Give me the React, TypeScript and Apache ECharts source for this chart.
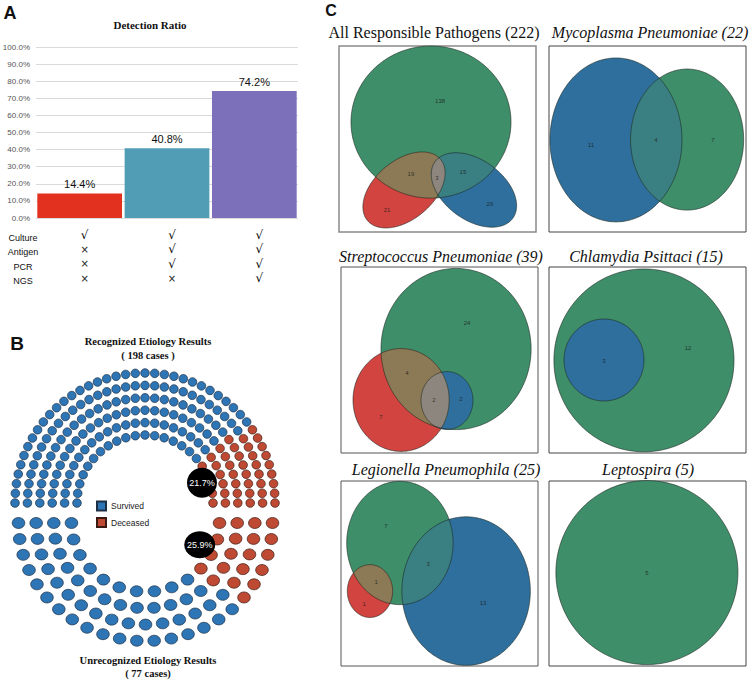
import React, { useEffect, useRef } from 'react';
import * as echarts from 'echarts';

// ---------- Panel A data ----------
const detectionGroups = ['Culture', 'Culture + Antigen + PCR', 'Culture + Antigen + PCR + NGS'];
const detectionRatio = [14.4, 40.8, 74.2];
const detectionColors = ['#e2321f', '#529db6', '#7b70b9'];
const methodNames = ['Culture', 'Antigen', 'PCR', 'NGS'];
const methodUsed = [
  [true, false, false, false],
  [true, true, true, false],
  [true, true, true, true],
];

// ---------- Panel B data ----------
const recognizedCases = 198;
const recognizedDeceasedPct = 21.7;
const unrecognizedCases = 77;
const unrecognizedDeceasedPct = 25.9;
const outcomeNames = ['Survived', 'Deceased'];

// ---------- Panel C data ----------
// ellipse: [setIndex(0 green,1 red,2 blue), cx%, cy%, rx(% of width), ry(% of width), rotationDeg]
const vennTitles = [
  'All Responsible Pathogens (222)',
  'Mycoplasma Pneumoniae (22)',
  'Streptococcus Pneumoniae (39)',
  'Chlamydia Psittaci (15)',
  'Legionella Pneumophila (25)',
  'Leptospira (5)',
];
const vennItalic = [false, true, true, true, true, true];
const vennEllipses1 = [
  [0, 46.7, 40.9, 40.6, 38.6, 0],
  [1, 33.0, 77.4, 24.2, 14.9, 40],
  [2, 68.5, 77.4, 24.4, 15.2, -36],
];
const vennEllipses2 = [
  [2, 34.0, 50.5, 33.5, 41.6, 0],
  [0, 70.1, 50.3, 28.7, 35.8, 0],
];
const vennEllipses3 = [
  [0, 58.4, 44.1, 38.1, 40.9, 0],
  [1, 30.5, 71.5, 24.4, 26.1, 0],
  [2, 53.8, 71.8, 13.2, 14.7, 0],
];
const vennEllipses4 = [
  [0, 48.2, 50.2, 45.7, 46.4, 0],
  [2, 27.9, 50.0, 20.3, 20.8, 0],
];
const vennEllipses5 = [
  [0, 29.9, 33.5, 27.0, 31.3, 0],
  [2, 63.5, 59.5, 32.6, 37.7, 0],
  [1, 14.7, 59.5, 11.5, 13.4, 0],
];
const vennEllipses6 = [[0, 49.7, 49.5, 46.2, 46.7, 0]];
// overlaps: [i, j, tintIndex]  (indices into the ellipse list of the same panel)
const vennOverlaps1 = [[0, 1, 0], [0, 2, 1], [1, 2, 2]];
const vennOverlaps2 = [[0, 1, 1]];
const vennOverlaps3 = [[0, 1, 0], [1, 2, 2]];
const vennOverlaps4: number[][] = [];
const vennOverlaps5 = [[0, 2, 0], [0, 1, 1]];
const vennOverlaps6: number[][] = [];
// counts: [x%, y%, count]
const vennCounts1 = [[51.3, 29.6, 138], [36.5, 68.8, 19], [49.7, 71.0, 3], [62.9, 67.7, 15], [24.4, 88.2, 21], [76.6, 84.9, 26]];
const vennCounts2 = [[21.3, 53.2, 11], [54.3, 50.5, 4], [83.2, 50.5, 7]];
const vennCounts3 = [[64.0, 30.1, 24], [33.5, 57.0, 4], [47.2, 71.5, 2], [60.9, 71.0, 2], [20.3, 80.6, 7]];
const vennCounts4 = [[27.9, 50.5, 3], [70.6, 43.5, 12]];
const vennCounts5 = [[22.8, 24.3, 7], [44.2, 44.9, 3], [17.8, 54.6, 1], [11.7, 66.5, 1], [72.1, 65.9, 13]];
const vennCounts6 = [[49.7, 49.5, 5]];

// ---------- styling ----------
const SANS = '"Liberation Sans", Arial, sans-serif';
const SERIF = '"Liberation Serif", "Times New Roman", serif';
const setColors = ['#3e8e69', '#d1443f', '#2f6f9d'];
const tintColors = ['#8b7a55', '#3a8083', '#8d867e'];
const seatBlue = '#2e75b6';
const seatRed = '#bf4a33';

const vennPanels = [
  { e: vennEllipses1, o: vennOverlaps1, c: vennCounts1, box: [339, 46, 197, 186], border: '#8a8a8a', bw: 1.5, title: [434, 32] },
  { e: vennEllipses2, o: vennOverlaps2, c: vennCounts2, box: [549, 46, 197, 186], border: '#444', bw: 1, title: [650, 32] },
  { e: vennEllipses3, o: vennOverlaps3, c: vennCounts3, box: [341, 267, 197, 186], border: '#555', bw: 1, title: [441, 256] },
  { e: vennEllipses4, o: vennOverlaps4, c: vennCounts4, box: [549, 267, 197, 186], border: '#444', bw: 1, title: [646, 256] },
  { e: vennEllipses5, o: vennOverlaps5, c: vennCounts5, box: [341, 481, 197, 185], border: '#555', bw: 1, title: [446, 469] },
  { e: vennEllipses6, o: vennOverlaps6, c: vennCounts6, box: [549, 481, 197, 185], border: '#444', bw: 1, title: [648, 469] },
];

type Geo = { cx: number; cy: number; rx: number; ry: number; th: number; pts: number[][] };

function ellipseGeo(e: number[], api: any): Geo {
  const c = api.coord([e[1], e[2]]);
  const rx = api.size([e[3], 0])[0];
  const ry = api.size([e[4], 0])[0];
  const th = (e[5] * Math.PI) / 180;
  const pts: number[][] = [];
  const N = 240;
  for (let k = 0; k < N; k++) {
    const t = (2 * Math.PI * k) / N;
    const lx = rx * Math.cos(t);
    const ly = ry * Math.sin(t);
    pts.push([c[0] + lx * Math.cos(th) + ly * Math.sin(th), c[1] - lx * Math.sin(th) + ly * Math.cos(th)]);
  }
  return { cx: c[0], cy: c[1], rx, ry, th, pts };
}

function inside(g: Geo, p: number[]) {
  const dx = p[0] - g.cx;
  const dy = p[1] - g.cy;
  const lx = dx * Math.cos(g.th) - dy * Math.sin(g.th);
  const ly = dx * Math.sin(g.th) + dy * Math.cos(g.th);
  return (lx / g.rx) ** 2 + (ly / g.ry) ** 2 <= 1.0001;
}

function intersection(gs: Geo[]) {
  const pts: number[][] = [];
  gs.forEach((g, i) => {
    g.pts.forEach((p) => {
      if (gs.every((o, j) => j === i || inside(o, p))) pts.push(p);
    });
  });
  if (pts.length < 3) return null;
  const mx = pts.reduce((s, p) => s + p[0], 0) / pts.length;
  const my = pts.reduce((s, p) => s + p[1], 0) / pts.length;
  pts.sort((a, b) => Math.atan2(a[1] - my, a[0] - mx) - Math.atan2(b[1] - my, b[0] - mx));
  return pts;
}

function buildSeats(total: number, rings: number, innerFrac: number, lower: boolean) {
  const radii = Array.from({ length: rings }, (_, i) => innerFrac + ((1 - innerFrac) * i) / (rings - 1));
  const sum = radii.reduce((s, r) => s + r, 0);
  const counts = radii.map((r) => Math.round((total * r) / sum));
  const diff = total - counts.reduce((s, n) => s + n, 0);
  counts[rings - 1] += diff;
  const seats: { a: number; r: number; x: number; y: number }[] = [];
  radii.forEach((r, i) => {
    const n = counts[i];
    for (let k = 0; k < n; k++) {
      const a = (Math.PI * k) / (n - 1);
      seats.push({ a, r, x: r * Math.cos(a), y: (lower ? -1 : 1) * r * Math.sin(a) });
    }
  });
  seats.sort((p, q) => p.a - q.a || p.r - q.r);
  return seats;
}

function buildOption() {
  const grids: any[] = [];
  const xAxes: any[] = [];
  const yAxes: any[] = [];
  const series: any[] = [];
  const graphics: any[] = [];

  // ---- Panel A ----
  grids.push({ left: 36, top: 47, width: 262, height: 171, outerBoundsMode: 'none' });
  xAxes.push({
    type: 'category',
    gridIndex: 0,
    data: detectionGroups,
    axisLine: { show: false },
    axisTick: { show: false },
    axisLabel: {
      interval: 0,
      margin: 10,
      padding: [0, 0, 0, 10],
      formatter: (_v: string, idx: number) => methodUsed[idx].map((u) => (u ? '{c|√}' : '{x|×}')).join('\n'),
      rich: {
        c: { fontSize: 12, lineHeight: 14.3, color: '#000', fontFamily: '"DejaVu Sans", sans-serif' },
        x: { fontSize: 10, lineHeight: 14.3, color: '#222', fontFamily: '"DejaVu Sans", sans-serif' },
      },
    },
  });
  yAxes.push({
    type: 'value',
    gridIndex: 0,
    min: 0,
    max: 100,
    interval: 10,
    axisLine: { show: false },
    axisTick: { show: false },
    axisLabel: { formatter: (v: number) => v.toFixed(1) + '%', fontSize: 8, color: '#555', margin: 6, fontFamily: SANS },
    splitLine: { lineStyle: { color: '#dadada', width: 1 } },
  });
  series.push({
    type: 'bar',
    xAxisIndex: 0,
    yAxisIndex: 0,
    barCategoryGap: '3%',
    data: detectionRatio.map((v, i) => ({ value: v, itemStyle: { color: detectionColors[i] } })),
    label: { show: true, position: 'top', distance: 4, formatter: (p: any) => p.value.toFixed(1) + '%', fontSize: 11, color: '#111', fontFamily: SANS },
  });
  graphics.push({
    type: 'text', x: 23, y: 231,
    style: { text: methodNames.join('\n'), font: `9px ${SANS}`, fill: '#111', textAlign: 'center', lineHeight: 14.3, textVerticalAlign: 'top' },
  });

  // ---- Panel B ----
  grids.push({ left: 15, top: 373, width: 260, height: 260, outerBoundsMode: 'none' });
  grids.push({ left: 18.5, top: 405, width: 254, height: 236, outerBoundsMode: 'none' });
  [1, 2].forEach((gi) => {
    xAxes.push({ type: 'value', gridIndex: gi, min: -1, max: 1, show: false });
    yAxes.push({ type: 'value', gridIndex: gi, min: -1, max: 1, show: false });
  });
  const halves = [
    { gi: 1, total: recognizedCases, pct: recognizedDeceasedPct, rings: 6, inner: 0.523, lower: false, size: 8.6, mark: 30 },
    { gi: 2, total: unrecognizedCases, pct: unrecognizedDeceasedPct, rings: 4, inner: 0.583, lower: true, size: [12.6, 11] as any, mark: [31, 27] as any },
  ];
  halves.forEach((h) => {
    const seats = buildSeats(h.total, h.rings, h.inner, h.lower);
    const nDead = Math.round((h.total * h.pct) / 100);
    const dead = seats.slice(0, nDead).map((s) => [s.x, s.y]);
    const alive = seats.slice(nDead).map((s) => [s.x, s.y]);
    series.push({
      type: 'scatter', name: outcomeNames[0], xAxisIndex: h.gi, yAxisIndex: h.gi, symbol: 'circle', symbolSize: h.size,
      itemStyle: { color: seatBlue, borderColor: '#1d2f44', borderWidth: 0.7, opacity: 1 }, data: alive, silent: true, z: 3,
    });
    series.push({
      type: 'scatter', name: outcomeNames[1], xAxisIndex: h.gi, yAxisIndex: h.gi, symbol: 'circle', symbolSize: h.size,
      itemStyle: { color: seatRed, borderColor: '#3a1a12', borderWidth: 0.7, opacity: 1 }, data: dead, silent: true, z: 3,
    });
    const a = ((h.pct / 100) * Math.PI) / 2;
    series.push({
      type: 'scatter', xAxisIndex: h.gi, yAxisIndex: h.gi, symbol: 'circle', symbolSize: h.mark, z: 5, silent: true,
      itemStyle: { color: '#000', opacity: 1 },
      data: [[0.465 * Math.cos(a), (h.lower ? -1 : 1) * 0.465 * Math.sin(a)]],
      label: { show: true, position: 'inside', formatter: h.pct.toFixed(1) + '%', color: '#fff', fontSize: 9, fontFamily: SANS },
    });
  });

  // ---- Panel C ----
  vennPanels.forEach((vp, k) => {
    const gi = 3 + k;
    grids.push({
      left: vp.box[0], top: vp.box[1], width: vp.box[2], height: vp.box[3], show: true,
      borderColor: vp.border, borderWidth: vp.bw, backgroundColor: 'transparent', outerBoundsMode: 'none',
    });
    xAxes.push({ type: 'value', gridIndex: gi, min: 0, max: 100, show: false });
    yAxes.push({ type: 'value', gridIndex: gi, min: 0, max: 100, inverse: true, show: false });
    const ell = vp.e;
    series.push({
      type: 'custom', xAxisIndex: gi, yAxisIndex: gi, silent: true, z: 2, encode: { x: 1, y: 2 },
      data: ell,
      renderItem: (params: any, api: any) => {
        const e = ell[params.dataIndex];
        const g = ellipseGeo(e, api);
        return { type: 'polygon', shape: { points: g.pts }, style: { fill: setColors[e[0]], stroke: 'none' } };
      },
    });
    if (vp.o.length) {
      series.push({
        type: 'custom', xAxisIndex: gi, yAxisIndex: gi, silent: true, z: 3,
        data: vp.o,
        renderItem: (params: any, api: any) => {
          const o = vp.o[params.dataIndex];
          const gs = [ell[o[0]], ell[o[1]]].map((e) => ellipseGeo(e, api));
          const pts = intersection(gs);
          if (!pts) return { type: 'group', children: [] };
          return { type: 'polygon', shape: { points: pts }, style: { fill: tintColors[o[2]], stroke: 'none' } };
        },
      });
    }
    series.push({
      type: 'custom', xAxisIndex: gi, yAxisIndex: gi, silent: true, z: 4, encode: { x: 1, y: 2 },
      data: ell,
      renderItem: (params: any, api: any) => {
        const g = ellipseGeo(ell[params.dataIndex], api);
        return { type: 'polygon', shape: { points: g.pts }, style: { fill: 'none', stroke: '#1f2a24', lineWidth: 0.6 } };
      },
    });
    series.push({
      type: 'scatter', xAxisIndex: gi, yAxisIndex: gi, silent: true, z: 6, symbolSize: 1,
      itemStyle: { color: 'rgba(0,0,0,0)' },
      data: vp.c,
      label: { show: true, position: 'inside', formatter: (p: any) => String(p.value[2]), fontSize: 6, color: '#1a1a1a', fontFamily: SANS },
    });
    graphics.push({
      type: 'text', x: vp.title[0], y: vp.title[1],
      style: {
        text: vennTitles[k], font: `${vennItalic[k] ? 'italic ' : ''}16px ${SERIF}`, fill: '#111',
        textAlign: 'center', textVerticalAlign: 'middle',
      },
    });
  });

  // ---- titles / panel letters ----
  const t = (text: string, x: number, y: number, font: string) => ({
    type: 'text', x, y, style: { text, font, fill: '#111', textAlign: 'center', textVerticalAlign: 'middle' },
  });
  graphics.push(t('A', 10, 13, `bold 18px ${SANS}`));
  graphics.push(t('Detection Ratio', 150, 25, `bold 11px ${SERIF}`));
  graphics.push(t('B', 17, 343, `bold 19px ${SANS}`));
  graphics.push(t('Recognized Etiology Results', 148, 341, `bold 10.5px ${SERIF}`));
  graphics.push(t(`( ${recognizedCases} cases )`, 148, 355, `bold 10.5px ${SERIF}`));
  graphics.push(t('Unrecognized Etiology Results', 148, 660, `bold 10.5px ${SERIF}`));
  graphics.push(t(`( ${unrecognizedCases} cases)`, 148, 673, `bold 10.5px ${SERIF}`));
  graphics.push(t('C', 331, 10, `bold 16px ${SANS}`));

  return {
    animation: false,
    backgroundColor: '#fff',
    textStyle: { fontFamily: SANS },
    legend: {
      data: outcomeNames,
      orient: 'vertical',
      left: 91,
      top: 495.5,
      itemWidth: 9,
      itemHeight: 9,
      itemGap: 5.5,
      icon: 'rect',
      selectedMode: false,
      textStyle: { fontSize: 8.5, color: '#222', fontFamily: SANS, padding: [0, 0, 0, 0] },
    },
    grid: grids,
    xAxis: xAxes,
    yAxis: yAxes,
    series,
    graphic: { elements: graphics },
  };
}

export default function App() {
  const ref = useRef<HTMLDivElement>(null);
  useEffect(() => {
    if (!ref.current) return;
    const chart = echarts.init(ref.current, null, { renderer: 'svg' });
    chart.setOption(buildOption() as any);
    return () => chart.dispose();
  }, []);
  return <div ref={ref} style={{ position: 'fixed', left: 0, top: 0, width: 750, height: 681, background: '#fff' }} />;
}
